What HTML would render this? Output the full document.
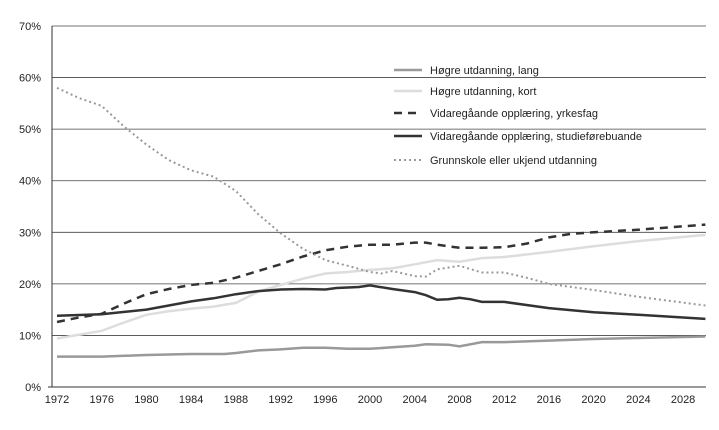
<!DOCTYPE html>
<html><head><meta charset="utf-8"><style>
body{margin:0;background:#fff;}
svg text{font-family:"Liberation Sans",sans-serif;font-size:11px;fill:#222;}
</style></head><body>
<svg width="719" height="425">
<g id="grid"></g>
<g id="series"></g>
<g id="axes"></g>
<g id="legend"></g>
</svg>
<script>
const langX=[1972,1976,1980,1984,1987,1988,1990,1992,1994,1996,1998,2000,2002,2004,2005,2007,2008,2010,2012,2016,2020,2024,2030];
const langY=[5.9,5.9,6.2,6.4,6.4,6.6,7.1,7.3,7.6,7.6,7.4,7.4,7.7,8.0,8.3,8.2,7.9,8.7,8.7,9.0,9.3,9.5,9.8];
const kortX=[1972,1976,1978,1980,1982,1984,1986,1988,1990,1992,1994,1996,1998,2000,2002,2004,2006,2008,2010,2012,2016,2020,2024,2030];
const kortY=[9.4,10.9,12.5,14.0,14.7,15.2,15.6,16.3,18.5,19.8,21.0,22.0,22.3,22.7,23.0,23.8,24.6,24.3,25.0,25.2,26.2,27.3,28.3,29.5];
const yrkX=[1972,1974,1976,1978,1980,1982,1984,1986,1988,1990,1992,1994,1996,1998,2000,2002,2004,2005,2006,2008,2010,2012,2014,2016,2018,2020,2024,2030];
const yrkY=[12.6,13.5,14.2,16.2,18.0,19.0,19.8,20.2,21.2,22.5,23.8,25.3,26.5,27.2,27.6,27.6,28.0,28.0,27.6,27.0,27.0,27.1,27.8,29.0,29.7,30.0,30.5,31.5];
const stuX=[1972,1976,1980,1982,1984,1986,1988,1990,1992,1994,1996,1997,1999,2000,2002,2004,2005,2006,2007,2008,2009,2010,2012,2016,2020,2024,2030];
const stuY=[13.8,14.1,15.0,15.8,16.6,17.2,18.0,18.6,18.9,19.0,18.9,19.2,19.4,19.7,19.0,18.4,17.8,16.9,17.0,17.3,17.0,16.5,16.5,15.3,14.5,14.0,13.2];
const gruX=[1972,1974,1976,1978,1980,1982,1984,1986,1988,1990,1992,1994,1996,1998,2000,2001,2002,2004,2005,2006,2008,2010,2012,2014,2016,2020,2024,2030];
const gruY=[58.0,56.0,54.5,50.5,47.0,44.0,42.0,40.8,38.0,33.5,29.8,26.8,24.6,23.5,22.3,22.0,22.5,21.5,21.4,22.8,23.5,22.2,22.2,21.2,20.0,18.8,17.5,15.8];
const yTicks=[0,10,20,30,40,50,60,70];
const xTicks=[1972,1976,1980,1984,1988,1992,1996,2000,2004,2008,2012,2016,2020,2024,2028];
const seriesNames=["Høgre utdanning, lang","Høgre utdanning, kort","Vidaregåande opplæring, yrkesfag","Vidaregåande opplæring, studieførebuande","Grunnskole eller ukjend utdanning"];
const NS="http://www.w3.org/2000/svg";
const xs=y=>57+(y-1972)*11.18;
const ys=v=>387-v*5.157;
function mk(t,a,p){const e=document.createElementNS(NS,t);for(const k in a)e.setAttribute(k,a[k]);p.appendChild(e);return e;}
const grid=document.getElementById('grid'),axes=document.getElementById('axes'),ser=document.getElementById('series'),leg=document.getElementById('legend');
yTicks.forEach(v=>{
 if(v>0){const l=mk('line',{x1:52,x2:706,y1:ys(v),y2:ys(v),stroke:'#444','stroke-width':0.8},grid);
 
 }
 const t=mk('text',{x:41,y:ys(v)+4,'text-anchor':'end'},axes);t.textContent=v+'%';
 
 
});
mk('line',{x1:52,x2:52,y1:26,y2:387,stroke:'#333','stroke-width':1},axes);
mk('line',{x1:48,x2:706,y1:387,y2:387,stroke:'#333','stroke-width':1},axes);
xTicks.forEach(v=>{
 const t=mk('text',{x:xs(v),y:403,'text-anchor':'middle'},axes);t.textContent=v;
 
 
});
const styles=[{s:'#999',w:2.5,d:''},{s:'#ddd',w:2.5,d:''},{s:'#333',w:2.5,d:'8,6'},{s:'#333',w:2.5,d:''},{s:'#999',w:2,d:'2,3'}];
const data=[[langX,langY],[kortX,kortY],[yrkX,yrkY],[stuX,stuY],[gruX,gruY]];
const keys=['lang','kort','yrkesfag','studie','grunnskole'];
data.forEach((d,i)=>{
 const pts=d[0].map((x,j)=>xs(x).toFixed(1)+','+ys(d[1][j]).toFixed(1)).join(' ');
 const p=mk('polyline',{points:pts,fill:'none',stroke:styles[i].s,'stroke-width':styles[i].w,'stroke-dasharray':styles[i].d},ser);
 
 
 const ly=[70,91,113,136,160][i];
 const g=mk('g',{},leg);
 
 
 mk('line',{x1:394,x2:422,y1:ly,y2:ly,stroke:styles[i].s,'stroke-width':styles[i].w,'stroke-dasharray':styles[i].d},g);
 const t=mk('text',{x:430,y:ly+4},g);t.textContent=seriesNames[i];
});
</script>
</body></html>
